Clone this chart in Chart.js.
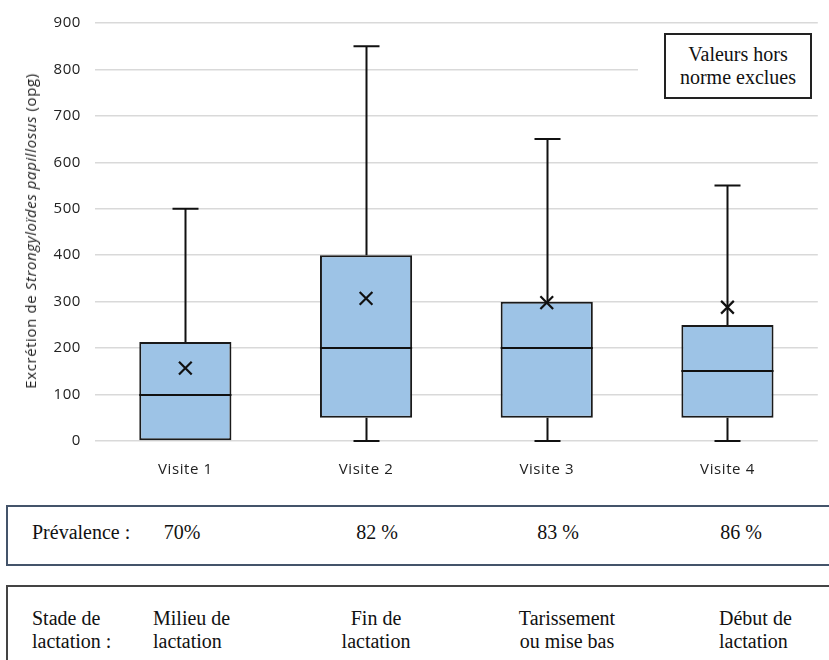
<!DOCTYPE html>
<html>
<head>
<meta charset="utf-8">
<script src="https://cdn.jsdelivr.net/npm/chart.js@4.4.1/dist/chart.umd.min.js"></script>
<style>
  body { margin: 0; background: #fff; width: 829px; height: 660px; overflow: hidden; position: relative; }
  #wrap { position: absolute; left: 0; top: 0; }
  .serif { font-family: "Liberation Serif", "Times New Roman", serif; font-size: 20px; line-height: 23px; color: #111; position: absolute; white-space: nowrap; }
  .ctr { transform: translateX(-50%); text-align: center; }
  #ytitle { position: absolute; left: 30px; top: 231px; transform: translate(-50%, -50%) rotate(-90deg);
            font-family: "Open Sans", "Liberation Sans", sans-serif; font-size: 15px; letter-spacing: 0.6px; color: #222; white-space: nowrap; }
  #note { position: absolute; left: 638px; top: 26px; width: 185px; height: 80px; background: #fff; }
  #note div { position: absolute; left: 26px; top: 7px; width: 148px; height: 66px; border: 2px solid #222; box-sizing: border-box;
              font-family: "Liberation Serif", serif; font-size: 20px; text-align: center; line-height: 23px; padding-top: 8px; color: #111; }
  #box1 { position: absolute; left: 6px; top: 505px; width: 840px; height: 61px; border: 2px solid #44546a; box-sizing: border-box; }
  #box2 { position: absolute; left: 6px; top: 585px; width: 840px; height: 100px; border: 2px solid #444; box-sizing: border-box; }
</style>
</head>
<body>
<div id="wrap"><canvas id="chart" width="829" height="490"></canvas></div>
<div id="ytitle">Excrétion de <i>Strongyloïdes papillosus</i> (opg)</div>
<div id="note"><div>Valeurs hors<br>norme exclues</div></div>
<div id="box1"></div>
<div id="box2"></div>
<div id="tables"></div>
<script>
// --- Data ---
const visits = ['Visite 1', 'Visite 2', 'Visite 3', 'Visite 4'];
const minVals = [0, 0, 0, 0];
const q1Vals = [0, 50, 50, 50];
const medianVals = [100, 200, 200, 150];
const q3Vals = [213, 400, 300, 250];
const maxVals = [500, 850, 650, 550];
const meanVals = [157, 307, 298, 288];
const prevalence = ['70%', '82 %', '83 %', '86 %'];
const stages = [['Milieu de', 'lactation'], ['Fin de', 'lactation'], ['Tarissement', 'ou mise bas'], ['Début de', 'lactation']];
const yTicks = [0, 100, 200, 300, 400, 500, 600, 700, 800, 900];

const sansFont = '"Open Sans", "Liberation Sans", sans-serif';

// --- Box plot pieces drawn with the chart scales ---
const boxPlotPlugin = {
    id: 'boxPlot',
    beforeDraw(chart) { chart.ctx.letterSpacing = '0.6px'; },
    beforeDatasetsDraw(chart) {
        const { ctx, scales: { x, y } } = chart;
        ctx.save();
        ctx.strokeStyle = '#111';
        ctx.lineWidth = 2;
        visits.forEach((_, i) => {
            const cx = Math.round(x.getPixelForValue(i)) + 0.5;
            ctx.beginPath();
            ctx.moveTo(cx, y.getPixelForValue(maxVals[i]));
            ctx.lineTo(cx, y.getPixelForValue(q3Vals[i]));
            ctx.moveTo(cx - 13, y.getPixelForValue(maxVals[i]));
            ctx.lineTo(cx + 13, y.getPixelForValue(maxVals[i]));
            if (minVals[i] < q1Vals[i]) {
                ctx.moveTo(cx, y.getPixelForValue(minVals[i]));
                ctx.lineTo(cx, y.getPixelForValue(q1Vals[i]));
                ctx.moveTo(cx - 13, y.getPixelForValue(minVals[i]));
                ctx.lineTo(cx + 13, y.getPixelForValue(minVals[i]));
            }
            ctx.stroke();
        });
        ctx.restore();
    },
    afterDatasetsDraw(chart) {
        const { ctx, scales: { y } } = chart;
        const bars = chart.getDatasetMeta(0).data;
        ctx.save();
        ctx.strokeStyle = '#111';
        ctx.lineWidth = 2;
        bars.forEach((bar, i) => {
            const half = bar.width / 2;
            const my = Math.round(y.getPixelForValue(medianVals[i]));
            ctx.beginPath();
            ctx.moveTo(bar.x - half, my);
            ctx.lineTo(bar.x + half, my);
            ctx.stroke();
        });
        ctx.restore();
    }
};

new Chart(document.getElementById('chart'), {
    data: {
        labels: visits,
        datasets: [
            {
                type: 'bar', label: 'Boîte',
                data: q1Vals.map((q, i) => [q, q3Vals[i]]),
                backgroundColor: '#9dc3e6', borderColor: '#1a1a1a', borderWidth: 2, borderSkipped: false,
                barPercentage: 0.51, categoryPercentage: 1, order: 2
            },
            {
                type: 'line', label: 'Moyenne', data: meanVals, showLine: false,
                pointStyle: 'crossRot', pointRadius: 9, borderColor: '#111', borderWidth: 2.2, order: 1
            }
        ]
    },
    options: {
        responsive: false,
        animation: false,
        devicePixelRatio: 1,
        layout: { padding: { top: 20, right: 6, bottom: 9, left: 0 } },
        plugins: { legend: { display: false }, tooltip: { enabled: false } },
        scales: {
            x: {
                grid: { display: false }, border: { display: false },
                ticks: { color: '#222', padding: 12, font: { family: sansFont, size: 15 } },
                afterFit: (s) => { s.height = 40; }
            },
            y: {
                min: 0, max: 900,
                afterBuildTicks: (s) => { s.ticks = yTicks.map(v => ({ value: v })); },
                grid: { color: '#d9d9d9', lineWidth: 1.5, drawTicks: false },
                border: { display: false },
                ticks: { color: '#222', padding: 14, font: { family: sansFont, size: 15 } },
                afterFit: (s) => { s.width = 95; }
            }
        }
    },
    plugins: [boxPlotPlugin]
});

// --- Tables under the chart ---
const tables = document.getElementById('tables');
const prevCenters = [182, 377, 558, 741];
const stageLeft = [153, null, null, 719];
const stageCenters = [null, 376, 567, null];
function addText(html, left, top, centered) {
    const el = document.createElement('div');
    el.className = 'serif' + (centered ? ' ctr' : '');
    el.style.left = left + 'px';
    el.style.top = top + 'px';
    el.innerHTML = html;
    tables.appendChild(el);
}
addText('Prévalence :', 32, 521, false);
prevalence.forEach((p, i) => addText(p, prevCenters[i], 521, true));
addText('Stade de<br>lactation :', 32, 607, false);
stages.forEach((s, i) => {
    if (stageLeft[i] !== null) addText(s.join('<br>'), stageLeft[i], 607, false);
    else addText(s.join('<br>'), stageCenters[i], 607, true);
});
</script>
</body>
</html>
